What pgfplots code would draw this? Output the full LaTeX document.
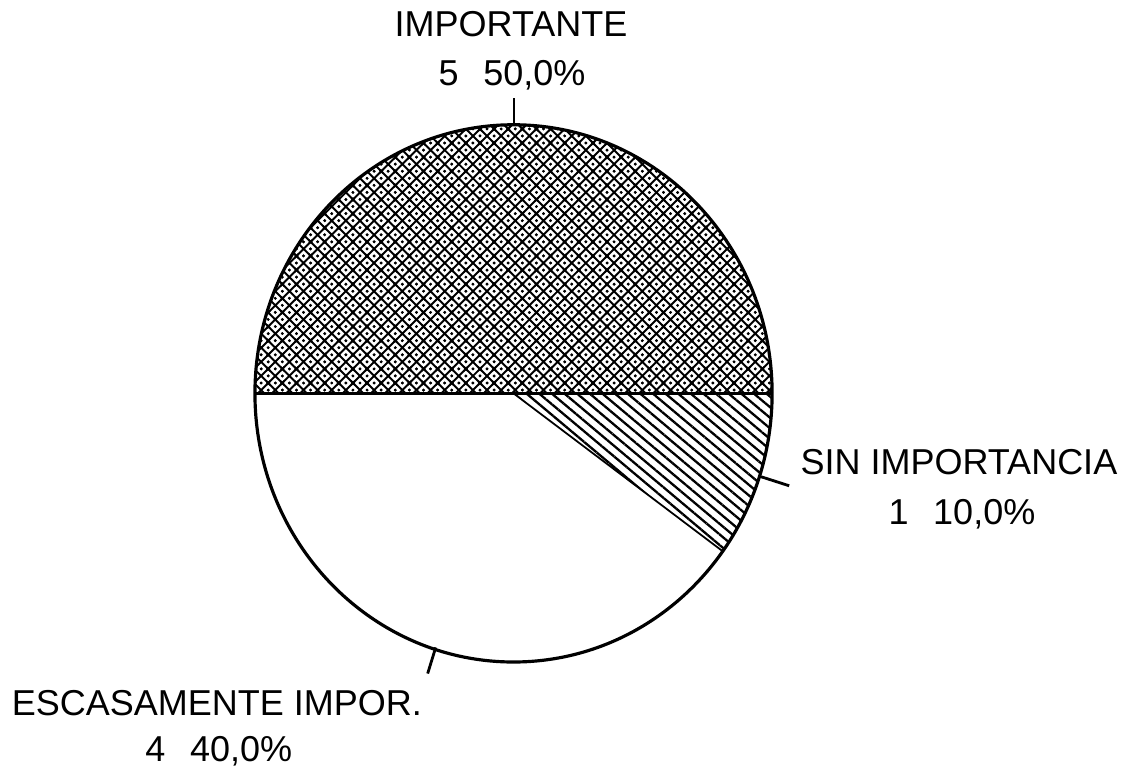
\documentclass[border=0pt]{standalone}
\usepackage{fontspec}
\setmainfont{Liberation Sans}
\usepackage{pgfplots}
\pgfplotsset{compat=1.18}
\usetikzlibrary{patterns,patterns.meta}

% dense dotted crosshatch for the top slice
\pgfdeclarepattern{
  name=impx, type=uncolored,
  bottom left={\pgfpoint{-0.6pt}{-0.6pt}}, top right={\pgfpoint{4.6pt}{4.6pt}},
  tile size={\pgfpoint{4pt}{4pt}},
  code={
    \pgfsetlinewidth{0.55pt}
    \pgfpathmoveto{\pgfpoint{-0.6pt}{-0.6pt}}\pgfpathlineto{\pgfpoint{4.6pt}{4.6pt}}
    \pgfpathmoveto{\pgfpoint{-0.6pt}{4.6pt}}\pgfpathlineto{\pgfpoint{4.6pt}{-0.6pt}}
    \pgfusepath{stroke}
    \pgfpathcircle{\pgfpoint{2pt}{0pt}}{0.42pt}
    \pgfpathcircle{\pgfpoint{0pt}{2pt}}{0.42pt}
    \pgfpathcircle{\pgfpoint{4pt}{2pt}}{0.42pt}
    \pgfpathcircle{\pgfpoint{2pt}{4pt}}{0.42pt}
    \pgfusepath{fill}
  }
}

% values (count per answer)
\def\vImp{5}
\def\vSin{1}
\def\vEsc{4}
\pgfmathsetmacro\vTot{\vImp+\vSin+\vEsc}
\pgfmathsetmacro\aA{180}
\pgfmathsetmacro\aB{\aA-360*\vImp/\vTot}
\pgfmathsetmacro\aC{\aB-360*\vSin/\vTot}
\pgfmathsetmacro\aD{\aC-360*\vEsc/\vTot}
% pie centre and radii
\def\cx{515.5}
\def\cy{371}
\def\rx{257.5}
\def\ry{267.5}

\newcommand{\slice}[3]{%
  \path[#3] (axis cs:\cx,\cy) -- (axis cs:{\cx+\rx*cos(#1)},{\cy+\ry*sin(#1)})
    arc[start angle=#1, end angle=#2, x radius=\rx, y radius=\ry] -- cycle;
}

\begin{document}
\begin{tikzpicture}[font=\fontsize{10.2}{12}\selectfont]
\begin{axis}[
  x=0.1mm, y=0.1mm,
  xmin=0, xmax=1129, ymin=0, ymax=765,
  hide axis, clip=false,
]
\slice{\aA}{\aB}{fill=white}
\slice{\aA}{\aB}{pattern=impx, pattern color=black}
\slice{\aB}{\aC}{fill=white}
\slice{\aB}{\aC}{pattern={Lines[angle=-40,distance=2.3pt,line width=0.65pt]}, pattern color=black}
\slice{\aC}{\aD}{fill=white}
\slice{\aB}{\aC}{draw=black, line width=0.5pt}
\draw[line width=0.9pt] (axis cs:{\cx-\rx},\cy) -- (axis cs:{\cx+\rx},\cy);
\draw[line width=0.9pt] (axis cs:\cx,\cy) ellipse[x radius=\rx, y radius=\ry];

% leader lines
\draw[line width=0.8pt] (axis cs:516,638) -- (axis cs:516,665);
\draw[line width=0.8pt] (axis cs:762,288) -- (axis cs:790,279);
\draw[line width=0.8pt] (axis cs:438,118) -- (axis cs:430,92);

% labels
\node[anchor=base] at (axis cs:513,726) {IMPORTANTE};
\node[anchor=base] at (axis cs:514,678) {5\hspace{7pt}50,0\%};
\node[anchor=base] at (axis cs:959,290) {SIN IMPORTANCIA};
\node[anchor=base] at (axis cs:962,240) {1\hspace{7pt}10,0\%};
\node[anchor=base] at (axis cs:220,50) {ESCASAMENTE IMPOR.};
\node[anchor=base] at (axis cs:222,4) {4\hspace{7pt}40,0\%};
\end{axis}
\end{tikzpicture}
\end{document}
